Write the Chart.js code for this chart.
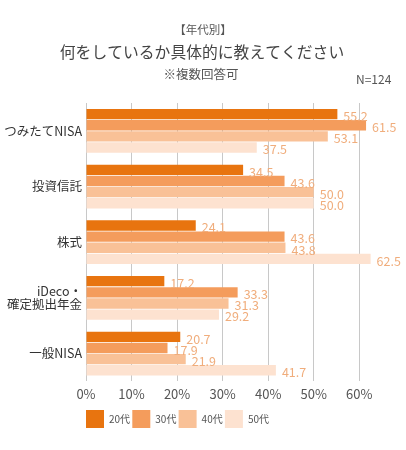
<!DOCTYPE html>
<html><head><meta charset="utf-8">
<script src="https://cdn.jsdelivr.net/npm/chart.js@4/dist/chart.umd.min.js"></script>
<style>html,body{margin:0;padding:0;background:#fff;}#wrap{width:406px;height:450px;position:relative;}</style>
</head><body><div id="wrap"><canvas id="c"></canvas></div>
<script>
const categories = ['つみたてNISA', '投資信託', '株式', ['iDeco・', '確定拠出年金'], '一般NISA'];
const seriesNames = ['20代', '30代', '40代', '50代'];
const s20 = [55.2, 34.5, 24.1, 17.2, 20.7];
const s30 = [61.5, 43.6, 43.6, 33.3, 17.9];
const s40 = [53.1, 50.0, 43.8, 31.3, 21.9];
const s50 = [37.5, 50.0, 62.5, 29.2, 41.7];
const xTicks = [0, 10, 20, 30, 40, 50, 60];
const colors = ['#E8740F', '#F49C5C', '#F9C197', '#FDE2D0'];
const FONT = '"Noto Sans CJK JP", "Noto Sans", sans-serif';

const headerPlugin = {
  id: 'header',
  afterDraw(chart) {
    const ctx = chart.ctx;
    ctx.save();
    ctx.textBaseline = 'middle';
    ctx.textAlign = 'center';
    ctx.fillStyle = '#555';
    ctx.font = '11.5px ' + FONT;
    ctx.fillText('【年代別】', 203, 30);
    ctx.fillStyle = '#444';
    ctx.font = '15.8px ' + FONT;
    ctx.fillText('何をしているか具体的に教えてください', 202, 52);
    ctx.fillStyle = '#555';
    ctx.font = '12.5px ' + FONT;
    ctx.fillText('※複数回答可', 201, 74);
    ctx.font = '12px ' + FONT;
    ctx.textAlign = 'left';
    ctx.fillText('N=124', 356, 79);
    // legend
    const ds = chart.data.datasets;
    ctx.font = '10px ' + FONT;
    ds.forEach((d, i) => {
      const x = chart.chartArea.left + i * 46.3;
      ctx.fillStyle = d.backgroundColor;
      ctx.fillRect(x, 410, 18, 18);
      ctx.fillStyle = '#555';
      ctx.textAlign = 'left';
      ctx.fillText(d.label, x + 23, 419.5);
    });
    // data labels
    ctx.font = '12.5px ' + FONT;
    ctx.fillStyle = '#F0AD7C';
    ctx.textAlign = 'left';
    ds.forEach((d, i) => {
      const meta = chart.getDatasetMeta(i);
      meta.data.forEach((bar, j) => {
        ctx.fillText(d.data[j].toFixed(1), bar.x + 6, bar.y + 2);
      });
    });
    ctx.restore();
  }
};

new Chart(document.getElementById('c'), {
  type: 'bar',
  data: {
    labels: categories,
    datasets: [s20, s30, s40, s50].map((arr, i) => ({
      label: seriesNames[i],
      data: arr,
      backgroundColor: colors[i],
      borderWidth: 0,
      categoryPercentage: 0.8,
      barPercentage: 0.93
    }))
  },
  options: {
    indexAxis: 'y',
    responsive: true,
    maintainAspectRatio: false,
    animation: false,
    layout: { padding: { top: 103, right: 24, bottom: 43, left: 0 } },
    plugins: { legend: { display: false }, tooltip: { enabled: false }, title: { display: false } },
    scales: {
      x: {
        min: 0, max: 65,
        afterBuildTicks(scale) { scale.ticks = xTicks.map(v => ({ value: v })); },
        grid: { color: '#C8C8C8', lineWidth: 1, drawTicks: false },
        border: { display: false },
        ticks: { padding: 5, color: '#555', font: { family: FONT, size: 13 }, callback: v => v + '%' }
      },
      y: {
        afterFit(scale) { scale.width = 86; },
        grid: { display: false, drawTicks: false },
        border: { display: false },
        ticks: { padding: 4, color: '#333', font: { family: FONT, size: 12.5, lineHeight: 1.05 } }
      }
    }
  },
  plugins: [headerPlugin]
});
</script></body></html>
